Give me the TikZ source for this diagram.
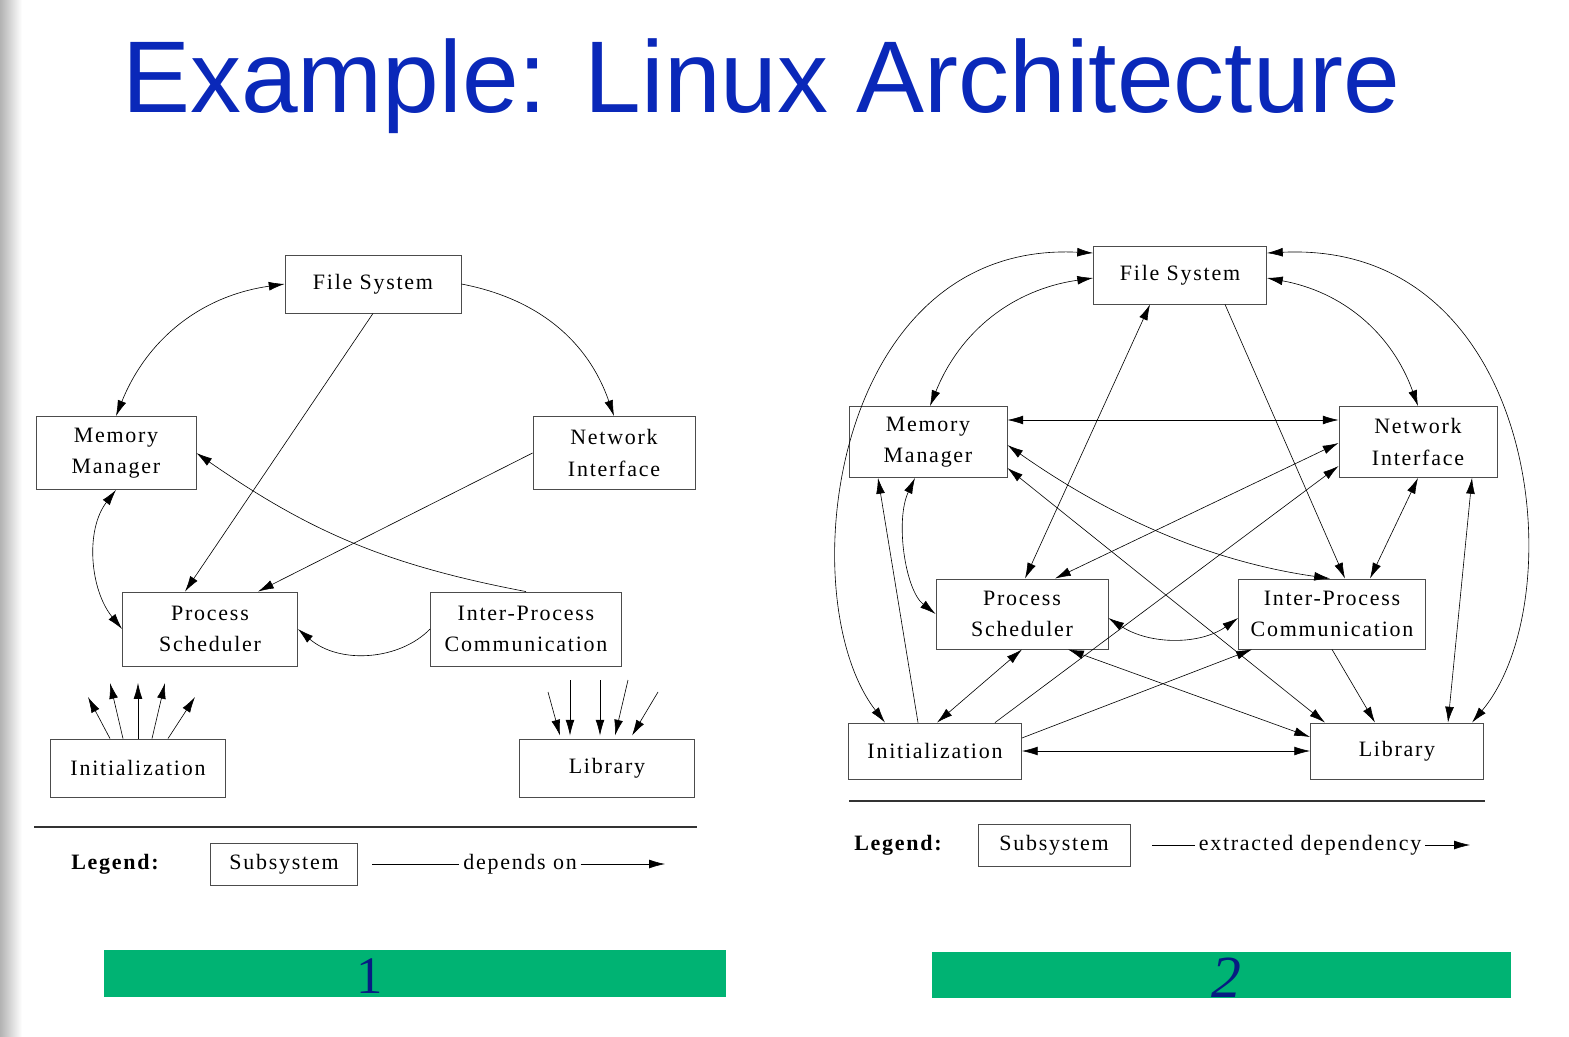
\documentclass[tikz,border=0pt]{standalone}
\usepackage{fontspec}
\setmainfont{Liberation Serif}
\newfontfamily\titlefont{Liberation Sans}
\newfontfamily\diagfont{Liberation Serif}[LetterSpace=8]
\usetikzlibrary{arrows.meta,calc}
\definecolor{titleblue}{RGB}{10,40,185}
\definecolor{barcol}{RGB}{0,179,115}
\tikzset{
  sub/.style={draw=black!70, line width=0.5pt, align=center, font=\diagfont\fontsize{12.5}{18}\selectfont, inner sep=0pt},
  dep/.style={line width=0.35pt, -{Latex[length=9pt,width=5pt]}},
  bidep/.style={line width=0.35pt, {Latex[length=9pt,width=5pt]}-{Latex[length=9pt,width=5pt]}},
}
\begin{document}
\begin{tikzpicture}[x=0.02cm,y=-0.02cm]
\useasboundingbox (0,0) rectangle (1569,1037);
% side shading and title
\fill[left color=black!30, right color=white] (0,0) rectangle (22,1037);
\node[anchor=base west, text=titleblue, font=\titlefont\fontsize{58}{66}\selectfont, inner sep=0pt] (title) at (122,113) {Example: Linux Architecture};

% ---- diagram 1 ----
\node[sub, minimum width=3.52cm, minimum height=1.16cm] (fs1) at (373,284) {File System};
\node[sub, minimum width=3.2cm, minimum height=1.46cm] (mm1) at (116,453) {Memory\\Manager};
\node[sub, minimum width=3.24cm, minimum height=1.46cm] (ni1) at (614,453) {Network\\Interface};
\node[sub, minimum width=3.5cm, minimum height=1.48cm] (ps1) at (210,629) {Process\\Scheduler};
\node[sub, minimum width=3.82cm, minimum height=1.48cm] (ipc1) at (526,629) {Inter-Process\\Communication};
\node[sub, minimum width=3.5cm, minimum height=1.16cm] (in1) at (138,768) {Initialization};
\node[sub, minimum width=3.5cm, minimum height=1.16cm] (lb1) at (607,768) {Library};

\draw[bidep] (fs1.west) to[bend right=30] (mm1.north);
\draw[dep] (fs1.east) to[bend left=30] (ni1.north);
\draw[dep] (fs1.south) -- ($(ps1.north)+(-25,0)$);
\draw[dep] (ni1.west) -- ($(ps1.north)+(48,0)$);
\draw[dep] (ipc1.north) to[bend left=12] (mm1.east);
\draw[dep] (ipc1.west) .. controls (400,660) and (340,665) .. (ps1.east);
\draw[bidep] (mm1.south) .. controls (85,530) and (90,590) .. (ps1.west);
\foreach \sx/\tx/\ty in {-28/-50/697, -15/-28/683, 0/0/683, 14/27/683, 30/57/697}
  \draw[dep] ($(in1.north)+(\sx,0)$) -- (138+\tx,\ty);
\foreach \sx/\tx/\ty in {-59/-47/692, -37/-37/680, -7/-7/680, 21/8/680, 51/25/692}
  \draw[dep] (607+\sx,\ty) -- ($(lb1.north)+(\tx,-3)$);

\draw[line width=1.2pt, black!80] (34,827) -- (697,827);
\node[font=\diagfont\bfseries\fontsize{12.5}{16}\selectfont] (lg1) at (115,864) {Legend:};
\node[sub, minimum width=2.94cm, minimum height=0.84cm] (sb1) at (284,864) {Subsystem};
\node[font=\diagfont\fontsize{12.5}{16}\selectfont, fill=white, inner sep=2pt] (dp1) at (520,864) {depends on};
\coordinate (l1a) at (372,864); \coordinate (l1b) at (665,864);
\draw[line width=0.35pt] (l1a) -- (dp1.west);
\draw[dep] (dp1.east) -- (l1b);

% ---- diagram 2 ----
\node[sub, minimum width=3.46cm, minimum height=1.16cm] (fs2) at (1180,275) {File System};
\node[sub, minimum width=3.16cm, minimum height=1.42cm] (mm2) at (928,442) {Memory\\Manager};
\node[sub, minimum width=3.16cm, minimum height=1.42cm] (ni2) at (1418,442) {Network\\Interface};
\node[sub, minimum width=3.44cm, minimum height=1.4cm] (ps2) at (1022,614) {Process\\Scheduler};
\node[sub, minimum width=3.74cm, minimum height=1.4cm] (ipc2) at (1332,614) {Inter-Process\\Communication};
\node[sub, minimum width=3.46cm, minimum height=1.12cm] (in2) at (935,751) {Initialization};
\node[sub, minimum width=3.46cm, minimum height=1.12cm] (lb2) at (1397,751) {Library};

\draw[bidep] ($(fs2.west)+(0,3)$) to[bend right=30] ($(mm2.north)+(2,0)$);
\draw[bidep] ($(fs2.east)+(0,3)$) to[bend left=30] (ni2.north);
\draw[bidep] ($(fs2.west)+(0,-22)$) .. controls (830,240) and (790,600) .. ($(in2.north)+(-50,0)$);
\draw[bidep] ($(fs2.east)+(0,-22)$) .. controls (1540,240) and (1575,600) .. ($(lb2.north)+(75,0)$);
\draw[bidep] ($(fs2.south)+(-30,0)$) -- ($(ps2.north)+(3,0)$);
\draw[dep] ($(fs2.south)+(45,0)$) -- ($(ipc2.north)+(13,0)$);
\draw[bidep] ($(mm2.east)+(0,-22)$) -- ($(ni2.west)+(0,-22)$);
\draw[bidep] ($(mm2.east)+(0,3)$) .. controls (1100,510) and (1200,560) .. ($(ipc2.north)+(-2,0)$);
\draw[bidep] ($(mm2.east)+(0,26)$) -- ($(lb2.north)+(-72,0)$);
\draw[bidep] ($(ni2.west)+(0,1)$) -- ($(ps2.north)+(33,0)$);
\draw[bidep] (ni2.south) -- ($(ipc2.north)+(38,0)$);
\draw[bidep] ($(ni2.south)+(54,0)$) -- ($(lb2.north)+(51,0)$);
\draw[dep] ($(in2.north)+(60,0)$) -- ($(ni2.west)+(0,24)$);
\draw[dep] ($(in2.east)+(0,-13)$) -- ($(ipc2.south)+(-80,0)$);
\draw[bidep] (in2.east) -- (lb2.west);
\draw[bidep] ($(in2.north)+(2,0)$) -- (ps2.south);
\draw[dep] ($(in2.north)+(-17,0)$) -- ($(mm2.south)+(-50,0)$);
\draw[bidep] ($(mm2.south)+(-13,0)$) .. controls (895,520) and (905,590) .. (ps2.west);
\draw[bidep] ($(ps2.east)+(0,4)$) .. controls (1150,645) and (1200,645) .. ($(ipc2.west)+(0,4)$);
\draw[bidep] ($(ps2.south)+(46,0)$) -- ($(lb2.west)+(0,-14)$);
\draw[dep] (ipc2.south) -- ($(lb2.north)+(-22,0)$);

\draw[line width=1.2pt, black!80] (849,801) -- (1485,801);
\node[font=\diagfont\bfseries\fontsize{12.5}{16}\selectfont] (lg2) at (898,845) {Legend:};
\node[sub, minimum width=3.04cm, minimum height=0.84cm] (sb2) at (1054,845) {Subsystem};
\node[font=\diagfont\fontsize{12.5}{16}\selectfont, fill=white, inner sep=2pt] (dp2) at (1310,845) {extracted dependency};
\coordinate (l2a) at (1152,845); \coordinate (l2b) at (1470,845);
\draw[line width=0.35pt] (l2a) -- (dp2.west);
\draw[dep] (dp2.east) -- (l2b);

% ---- bars ----
\fill[barcol] (104,950) rectangle (726,997);
\fill[barcol] (932,952) rectangle (1511,998);
\node[text=titleblue!70!black, font=\fontsize{30}{30}\selectfont] (n1) at (370,976) {1};
\node[text=titleblue!70!black, font=\itshape\fontsize{34}{34}\selectfont] (n2) at (1226,978) {2};
\end{tikzpicture}
\end{document}
